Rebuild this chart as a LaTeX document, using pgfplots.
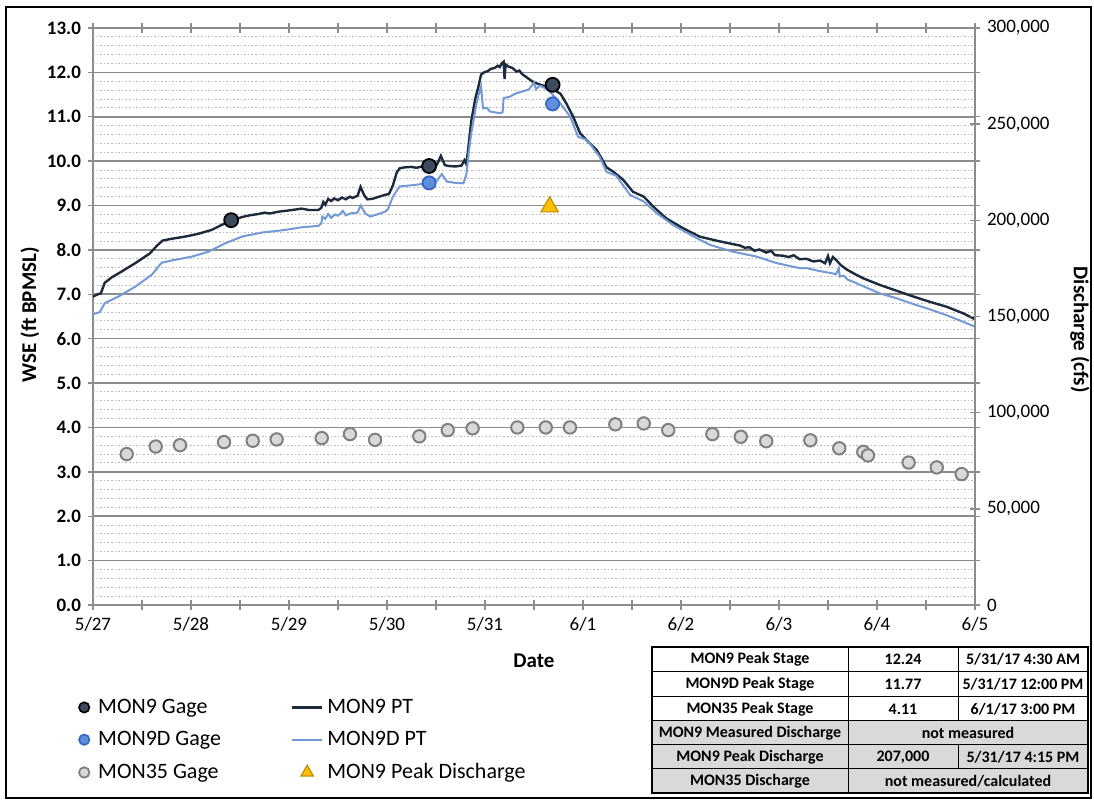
\documentclass[border=0pt]{standalone}
\usepackage{pgfplots}
\pgfplotsset{compat=1.18}
\usepackage{fontspec}
\setmainfont{Carlito}
\definecolor{ptnine}{HTML}{1C2B3C}
\definecolor{ptnined}{HTML}{7399D6}
\definecolor{gnine}{HTML}{3E4B5E}
\definecolor{gnined}{HTML}{5F8FDB}
\definecolor{gninededge}{HTML}{3566C2}
\definecolor{gtf}{HTML}{D9D9D9}
\definecolor{gtfedge}{HTML}{808080}
\definecolor{pk}{HTML}{FFC000}
\definecolor{pkedge}{HTML}{BF9000}
\definecolor{axgray}{HTML}{8C8C8C}
\definecolor{tgray}{HTML}{D9D9D9}
\pgfplotsset{
  /pgf/number format/assume math mode=true,
  lineleg/.style={legend image code/.code={\draw[##1] (0pt,0pt) -- (15pt,0pt);}},
  markleg/.style={legend image code/.code={\path[draw=none] (-3pt,0pt) -- (5pt,0pt); \draw[##1, draw=none] plot coordinates {(0pt,0pt)};}},
  trileg/.style={legend image code/.code={\path[draw=none] (0pt,0pt) -- (15pt,0pt); \draw[##1, draw=none] plot coordinates {(7.5pt,0pt)};}},
}
\begin{document}
\begin{tikzpicture}
\useasboundingbox (0,0) rectangle (547pt,401pt);
\fill[white] (0,0) rectangle (547pt,401pt);
\draw[black, line width=1.1pt] (3pt,2pt) rectangle (545.5pt,397.5pt);
\begin{axis}[
  at={(46.5pt,98.5pt)}, anchor=south west,
  scale only axis, width=441pt, height=288.5pt,
  xmin=0, xmax=9, ymin=0, ymax=13,
  xtick={0,...,9},
  xticklabels={5/27,5/28,5/29,5/30,5/31,6/1,6/2,6/3,6/4,6/5},
  minor xtick={0.5,1.5,...,8.5},
  ytick={0,...,13},
  extra y ticks={0.2,0.4,0.6,0.8,1.2,1.4,1.6,1.8,2.2,2.4,2.6,2.8,3.2,3.4,3.6,3.8,4.2,4.4,4.6,4.8,5.2,5.4,5.6,5.8,6.2,6.4,6.6,6.8,7.2,7.4,7.6,7.8,8.2,8.4,8.6,8.8,9.2,9.4,9.6,9.8,10.2,10.4,10.6,10.8,11.2,11.4,11.6,11.8,12.2,12.4,12.6,12.8},
  extra y tick labels={},
  extra y tick style={major tick length=0pt, major grid style={draw=gray!55, densely dotted, line width=0.5pt}},
  ymajorgrids,
  major grid style={draw=axgray, line width=0.8pt},
  axis line style={draw=axgray, line width=0.8pt},
  tick style={draw=axgray, line width=0.7pt},
  tick align=center,
  major tick length=5pt, minor tick length=5pt,
  yticklabel style={font=\fontsize{9.5}{11}\selectfont\bfseries, /pgf/number format/fixed, /pgf/number format/fixed zerofill, /pgf/number format/precision=1},
  xticklabel style={font=\fontsize{9.5}{11}\selectfont},
  xlabel={Date},
  xlabel style={font=\fontsize{10.5}{12}\selectfont\bfseries, at={(axis description cs:0.5,-0.097)}, anchor=center},
  ylabel={WSE (ft BPMSL)},
  ylabel style={font=\fontsize{10.5}{12}\selectfont\bfseries, at={(axis description cs:-0.0714,0.503)}, anchor=center},
  legend columns=2,
  legend cell align=left,
  legend style={at={(-0.024,-0.148)}, anchor=north west, draw=none, fill=none,
    font=\fontsize{11}{13}\selectfont, row sep=3.5pt,
    /tikz/every even column/.append style={column sep=33pt}},
]
% MON9 PT
\addplot[forget plot, ptnine, line width=1.2pt] coordinates {
(0.00,6.95)(0.05,7.00)(0.08,7.02)(0.12,7.26)(0.19,7.38)(0.29,7.51)(0.43,7.70)(0.58,7.92)
(0.65,8.09)(0.71,8.21)(0.80,8.25)(0.94,8.30)(1.07,8.36)(1.21,8.45)(1.31,8.56)(1.41,8.66)
(1.52,8.74)(1.60,8.78)(1.69,8.81)(1.75,8.84)(1.80,8.82)(1.89,8.86)(2.00,8.89)(2.13,8.93)
(2.20,8.90)(2.30,8.90)(2.33,8.95)(2.35,9.08)(2.37,9.02)(2.40,9.15)(2.43,9.10)(2.46,9.16)
(2.50,9.12)(2.54,9.18)(2.58,9.14)(2.62,9.20)(2.65,9.17)(2.70,9.22)(2.73,9.42)(2.77,9.22)
(2.80,9.14)(2.85,9.15)(2.92,9.20)(2.98,9.24)(3.02,9.26)(3.06,9.45)(3.10,9.75)(3.13,9.84)
(3.18,9.86)(3.25,9.87)(3.30,9.85)(3.38,9.89)(3.45,9.88)(3.51,9.92)(3.55,10.12)(3.59,9.91)
(3.63,9.89)(3.70,9.88)(3.76,9.90)(3.79,10.02)(3.81,9.93)(3.83,10.30)(3.86,10.90)(3.90,11.40)
(3.93,11.65)(3.96,11.95)(3.99,12.00)(4.03,12.03)(4.06,12.08)(4.10,12.10)(4.13,12.15)(4.15,12.12)
(4.17,12.20)(4.19,12.24)(4.20,11.85)(4.21,12.18)(4.24,12.13)(4.28,12.10)(4.32,12.02)(4.35,12.04)
(4.38,11.96)(4.43,11.88)(4.48,11.80)(4.53,11.75)(4.58,11.71)(4.63,11.68)(4.69,11.62)(4.77,11.52)
(4.83,11.30)(4.90,11.00)(4.97,10.63)(5.07,10.40)(5.14,10.25)(5.19,10.06)(5.24,9.86)(5.31,9.76)
(5.41,9.58)(5.51,9.31)(5.62,9.20)(5.72,8.97)(5.85,8.71)(6.02,8.49)(6.19,8.30)(6.36,8.21)
(6.53,8.13)(6.60,8.10)(6.65,8.05)(6.70,8.06)(6.75,7.98)(6.80,8.01)(6.87,7.94)(6.92,7.98)
(6.96,7.88)(7.04,7.87)(7.10,7.84)(7.15,7.88)(7.21,7.79)(7.28,7.80)(7.35,7.74)(7.42,7.76)
(7.47,7.70)(7.50,7.86)(7.52,7.70)(7.55,7.84)(7.58,7.78)(7.63,7.66)(7.69,7.56)(7.78,7.45)
(7.86,7.36)(8.03,7.21)(8.20,7.08)(8.37,6.95)(8.54,6.83)(8.71,6.72)(8.88,6.57)(9.00,6.44)
};
% MON9D PT
\addplot[forget plot, ptnined, line width=1pt] coordinates {
(0.00,6.55)(0.07,6.60)(0.12,6.80)(0.26,6.95)(0.43,7.17)(0.60,7.44)(0.70,7.71)(0.80,7.76)
(1.01,7.85)(1.18,7.96)(1.35,8.15)(1.52,8.30)(1.72,8.39)(1.96,8.45)(2.13,8.51)(2.30,8.54)
(2.33,8.60)(2.34,8.75)(2.37,8.70)(2.40,8.81)(2.43,8.72)(2.47,8.80)(2.50,8.77)(2.55,8.88)
(2.58,8.78)(2.64,8.83)(2.70,8.84)(2.73,9.00)(2.78,8.82)(2.83,8.75)(2.90,8.80)(2.98,8.86)
(3.01,8.92)(3.06,9.20)(3.13,9.43)(3.27,9.46)(3.40,9.50)(3.51,9.56)(3.56,9.71)(3.61,9.54)
(3.70,9.51)(3.78,9.50)(3.81,9.70)(3.84,10.30)(3.86,10.63)(3.92,11.38)(3.96,11.68)(3.98,11.19)
(4.02,11.20)(4.05,11.12)(4.10,11.10)(4.15,11.08)(4.18,11.10)(4.19,11.42)(4.25,11.45)(4.32,11.53)
(4.40,11.58)(4.45,11.62)(4.50,11.77)(4.52,11.62)(4.56,11.70)(4.60,11.66)(4.66,11.57)(4.77,11.30)
(4.87,11.00)(4.95,10.55)(5.04,10.48)(5.17,10.10)(5.24,9.76)(5.34,9.67)(5.48,9.24)(5.62,9.09)
(5.75,8.83)(5.92,8.56)(6.13,8.30)(6.30,8.11)(6.53,7.96)(6.77,7.85)(6.98,7.70)(7.21,7.59)
(7.28,7.59)(7.40,7.53)(7.55,7.47)(7.58,7.45)(7.61,7.59)(7.62,7.40)(7.66,7.42)(7.70,7.33)
(7.76,7.28)(7.83,7.21)(8.03,7.02)(8.20,6.91)(8.37,6.78)(8.54,6.66)(8.71,6.53)(8.88,6.38)(9.00,6.27)
};
% MON35 Gage
\addplot[forget plot, only marks, mark=*, mark size=3.1pt, mark options={fill=gtf, draw=gtfedge, line width=1pt}] coordinates {
(0.344,3.40)(0.64,3.57)(0.888,3.60)(1.337,3.67)(1.63,3.70)(1.874,3.73)(2.334,3.76)(2.622,3.85)
(2.878,3.72)(3.33,3.80)(3.62,3.94)(3.874,3.98)(4.33,4.00)(4.62,4.00)(4.867,4.00)(5.33,4.07)
(5.62,4.09)(5.87,3.94)(6.32,3.85)(6.61,3.79)(6.87,3.69)(7.32,3.71)(7.615,3.53)(7.86,3.45)
(7.908,3.37)(8.323,3.21)(8.61,3.10)(8.864,2.95)
};
% MON9D Gage
\addplot[forget plot, only marks, mark=*, mark size=3.3pt, mark options={fill=gnined, draw=gninededge, line width=0.9pt}] coordinates {
(3.43,9.51)(4.69,11.29)
};
% MON9 Gage
\addplot[forget plot, only marks, mark=*, mark size=3.5pt, mark options={fill=gnine, draw=black, line width=0.9pt}] coordinates {
(1.41,8.67)(3.43,9.89)(4.69,11.72)
};
% legend
\addlegendimage{only marks, mark=*, mark size=2.6pt, mark options={fill=gnine, draw=black, line width=0.8pt}, markleg}
\addlegendentry{MON9 Gage}
\addlegendimage{ptnine, line width=1.2pt, lineleg}
\addlegendentry{MON9 PT}
\addlegendimage{only marks, mark=*, mark size=2.6pt, mark options={fill=gnined, draw=gninededge, line width=0.8pt}, markleg}
\addlegendentry{MON9D Gage}
\addlegendimage{ptnined, line width=1pt, lineleg}
\addlegendentry{MON9D PT}
\addlegendimage{only marks, mark=*, mark size=2.6pt, mark options={fill=gtf, draw=gtfedge, line width=0.9pt}, markleg}
\addlegendentry{MON35 Gage}
\addlegendimage{only marks, mark=triangle*, mark size=3.6pt, mark options={fill=pk, draw=pkedge, line width=0.6pt}, trileg}
\addlegendentry{MON9 Peak Discharge}
\end{axis}
\begin{axis}[
  at={(46.5pt,98.5pt)}, anchor=south west,
  scale only axis, width=441pt, height=288.5pt,
  xmin=0, xmax=9, ymin=0, ymax=300000,
  axis x line=none, axis y line*=right,
  ytick={0,50000,100000,150000,200000,250000,300000},
  scaled y ticks=false,
  axis line style={draw=axgray, line width=0.8pt},
  tick style={draw=axgray, line width=0.7pt},
  tick align=center, major tick length=5pt,
  yticklabel style={font=\fontsize{9.5}{11}\selectfont, /pgf/number format/fixed, /pgf/number format/1000 sep={,}},
  ylabel={Discharge (cfs)},
  ylabel style={font=\fontsize{10.5}{12}\selectfont\bfseries, at={(axis description cs:1.119,0.477)}, anchor=center, rotate=180},
]
\addplot[only marks, mark=triangle*, mark size=5pt, mark options={fill=pk, draw=pkedge, line width=0.6pt}] coordinates {(4.66,207000)};
\end{axis}
% table
\fill[tgray] (326pt,4.5pt) rectangle (544pt,40.5pt);
\begin{scope}[line width=0.5pt]
\foreach \yy in {16.5,28.5,40.5,52.5,65} {\draw (326pt,\yy pt) -- (544pt,\yy pt);}
\draw (424pt,4.5pt) -- (424pt,77.5pt);
\draw (479pt,40.5pt) -- (479pt,77.5pt);
\draw (479pt,16.5pt) -- (479pt,28.5pt);
\end{scope}
\draw[line width=1.3pt] (326pt,4.5pt) rectangle (544pt,77.5pt);
\begin{scope}[font=\fontsize{8}{10}\selectfont\bfseries]
\node at (375pt,71.25pt) {MON9 Peak Stage};
\node at (451.5pt,71.25pt) {12.24};
\node at (511.5pt,71.25pt) {5/31/17 4:30 AM};
\node at (375pt,58.75pt) {MON9D Peak Stage};
\node at (451.5pt,58.75pt) {11.77};
\node at (511.5pt,58.75pt) {5/31/17 12:00 PM};
\node at (375pt,46.5pt) {MON35 Peak Stage};
\node at (451.5pt,46.5pt) {4.11};
\node at (511.5pt,46.5pt) {6/1/17 3:00 PM};
\node at (375pt,34.5pt) {MON9 Measured Discharge};
\node at (484pt,34.5pt) {not measured};
\node at (375pt,22.5pt) {MON9 Peak Discharge};
\node at (451.5pt,22.5pt) {207,000};
\node at (511.5pt,22.5pt) {5/31/17 4:15 PM};
\node at (375pt,10.5pt) {MON35 Discharge};
\node at (484pt,10.5pt) {not measured/calculated};
\end{scope}
\end{tikzpicture}
\end{document}
